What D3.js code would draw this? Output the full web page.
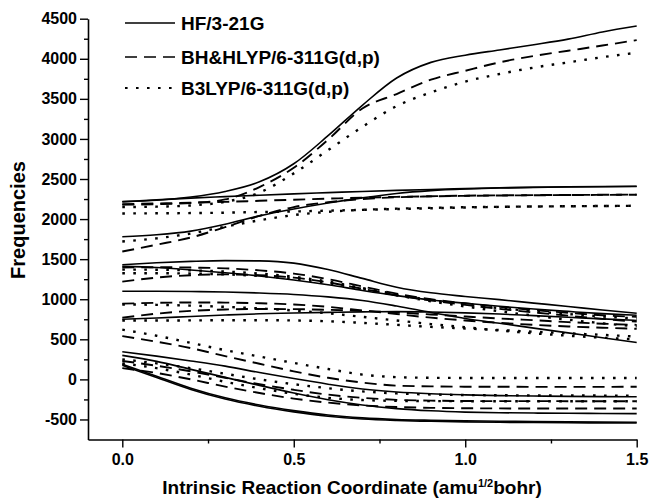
<!DOCTYPE html>
<html>
<head>
<meta charset="utf-8">
<script src="https://cdn.jsdelivr.net/npm/d3@7"></script>
<style>
  body { margin: 0; background: #fff; }
  text { font-family: "Liberation Sans", Arial, sans-serif; font-weight: bold; fill: #000; }
</style>
</head>
<body>
<div id="plot"></div>
<script>
// reaction coordinate grid (amu^1/2 bohr)
const irc = [0, 0.1, 0.2, 0.3, 0.4, 0.5, 0.6, 0.7, 0.8, 0.9, 1.0, 1.1, 1.2, 1.3, 1.4, 1.5];

// HF/3-21G (solid)
const hfTop  = [2220, 2235, 2275, 2345, 2465, 2690, 3040, 3420, 3760, 3955, 4045, 4110, 4175, 4245, 4335, 4408];
const hfFlat = [2215, 2240, 2262, 2280, 2298, 2315, 2330, 2345, 2358, 2370, 2380, 2390, 2398, 2403, 2407, 2410];
const hfRise = [1780, 1805, 1850, 1935, 2040, 2125, 2200, 2265, 2320, 2355, 2375, 2387, 2395, 2400, 2404, 2407];
const hfM1   = [1430, 1455, 1472, 1482, 1478, 1450, 1370, 1260, 1150, 1080, 1035, 995, 952, 910, 865, 825];
const hfM2   = [1410, 1395, 1365, 1330, 1290, 1240, 1180, 1110, 1045, 990, 950, 912, 878, 848, 820, 800];
const hfM3   = [1100, 1100, 1097, 1090, 1078, 1060, 1030, 985, 915, 835, 760, 700, 640, 580, 520, 460];
const hfM4   = [750, 765, 785, 803, 818, 828, 836, 842, 845, 840, 830, 815, 795, 775, 755, 735];
const hfL1   = [345, 290, 230, 165, 85, 10, -60, -120, -158, -180, -193, -202, -208, -212, -215, -217];
const hfL2   = [300, 225, 125, 25, -75, -170, -255, -320, -365, -392, -408, -416, -420, -423, -425, -427];
const hfL3   = [190, 40, -110, -230, -320, -390, -445, -480, -500, -510, -517, -522, -526, -530, -533, -535];
const hfL4   = [175, 25, -125, -245, -335, -405, -460, -495, -513, -523, -530, -535, -538, -541, -543, -545];

// BH&HLYP/6-311G(d,p) (dashed)
const bhTop  = [2180, 2185, 2200, 2245, 2400, 2640, 2990, 3380, 3560, 3740, 3850, 3955, 4035, 4100, 4165, 4233];
const bhFlat = [2185, 2195, 2205, 2215, 2228, 2242, 2255, 2267, 2277, 2285, 2292, 2296, 2299, 2301, 2303, 2305];
const bhRise = [1595, 1680, 1770, 1900, 2040, 2150, 2210, 2250, 2272, 2283, 2290, 2294, 2297, 2300, 2302, 2304];
const bhM1   = [1395, 1400, 1395, 1385, 1360, 1320, 1250, 1160, 1070, 1000, 950, 905, 865, 830, 800, 780];
const bhM2   = [1220, 1270, 1300, 1310, 1300, 1270, 1210, 1130, 1050, 985, 930, 880, 835, 795, 755, 720];
const bhM3   = [945, 955, 960, 958, 950, 935, 905, 860, 815, 770, 735, 705, 680, 660, 645, 630];
const bhM4   = [770, 820, 855, 872, 878, 876, 868, 855, 835, 810, 785, 760, 738, 715, 695, 680];
const bhL1   = [540, 470, 390, 290, 195, 100, 20, -40, -78, -87, -91, -92, -93, -93, -93, -92];
const bhL2   = [230, 170, 100, 20, -60, -130, -190, -230, -255, -265, -270, -271, -271, -272, -272, -272];
const bhL3   = [140, 80, 0, -90, -170, -240, -290, -325, -345, -355, -360, -362, -363, -363, -363, -363];

// B3LYP/6-311G(d,p) (dotted)
const b3Top  = [2150, 2155, 2170, 2215, 2330, 2570, 2860, 3150, 3410, 3580, 3715, 3810, 3890, 3955, 4020, 4075];
const b3Flat = [2070, 2072, 2075, 2080, 2088, 2095, 2105, 2115, 2125, 2135, 2145, 2152, 2157, 2160, 2163, 2166];
const b3Rise = [1720, 1760, 1820, 1905, 1985, 2050, 2090, 2115, 2130, 2140, 2148, 2153, 2157, 2160, 2163, 2166];
const b3M1   = [1370, 1368, 1360, 1345, 1320, 1280, 1220, 1140, 1060, 990, 935, 890, 850, 815, 785, 760];
const b3M2   = [1325, 1325, 1320, 1310, 1290, 1255, 1200, 1130, 1050, 975, 910, 850, 795, 745, 700, 660];
const b3M3   = [935, 930, 920, 905, 885, 860, 825, 780, 735, 690, 650, 610, 575, 545, 520, 500];
const b3M4   = [735, 735, 736, 738, 738, 735, 725, 705, 680, 655, 635, 615, 595, 575, 555, 535];
const b3L1   = [620, 545, 455, 365, 285, 205, 130, 60, 28, 20, 18, 18, 18, 18, 18, 18];
const b3L2   = [250, 200, 140, 70, 0, -60, -110, -150, -175, -188, -195, -198, -200, -201, -202, -202];
const b3L3   = [200, 140, 60, -30, -110, -180, -230, -258, -268, -271, -272, -272, -272, -272, -272, -272];

const methods = ["HF/3-21G", "BH&HLYP/6-311G(d,p)", "B3LYP/6-311G(d,p)"];
const modes = [
  [hfTop, hfFlat, hfRise, hfM1, hfM2, hfM3, hfM4, hfL1, hfL2, hfL3, hfL4],
  [bhTop, bhFlat, bhRise, bhM1, bhM2, bhM3, bhM4, bhL1, bhL2, bhL3],
  [b3Top, b3Flat, b3Rise, b3M1, b3M2, b3M3, b3M4, b3L1, b3L2, b3L3]
];

const xTicks = [0, 0.5, 1.0, 1.5];
const yTicks = [-500, 0, 500, 1000, 1500, 2000, 2500, 3000, 3500, 4000, 4500];

const width = 651, height = 499;
const dashes = ["none", "12,7", "2.6,8.4"];
const widths = [1.6, 1.9, 2.4];

const svg = d3.select("#plot").append("svg")
  .attr("width", width)
  .attr("height", height);

const x = d3.scaleLinear().domain([-0.1, 1.5]).range([88, 636.7]);
const y = d3.scaleLinear().domain([-750, 4500]).range([439.5, 18.7]);

// curves
const line = d3.line()
  .x((d, i) => x(irc[i]))
  .y(d => y(d))
  .curve(d3.curveMonotoneX);

methods.forEach((m, k) => {
  svg.append("g").selectAll("path")
    .data(modes[k])
    .enter()
    .append("path")
      .attr("d", line)
      .attr("fill", "none")
      .attr("stroke", "#000")
      .attr("stroke-width", widths[k])
      .attr("stroke-dasharray", dashes[k]);
});

// y axis (plain hyphen for negatives, like the original)
svg.append("g")
  .attr("transform", "translate(88,0)")
  .call(d3.axisLeft(y).tickValues(yTicks).tickSize(8).tickSizeOuter(0).tickPadding(3)
    .tickFormat(d => String(d)));
svg.append("g")
  .attr("transform", "translate(88,0)")
  .call(d3.axisLeft(y).tickValues(d3.range(-250, 4500, 500)).tickSize(4).tickFormat(""))
  .select(".domain").remove();

// x axis
svg.append("g")
  .attr("transform", "translate(0,439.5)")
  .call(d3.axisBottom(x).tickValues(xTicks).tickSize(8).tickSizeOuter(0).tickPadding(6)
    .tickFormat(d3.format(".1f")));
svg.append("g")
  .attr("transform", "translate(0,439.5)")
  .call(d3.axisBottom(x).tickValues([0.25, 0.75, 1.25]).tickSize(4).tickFormat(""))
  .select(".domain").remove();

svg.selectAll(".domain").attr("stroke-width", 1.6);
svg.selectAll(".tick line").attr("stroke-width", 1.4);
svg.selectAll(".tick text")
  .style("font-family", "'Liberation Sans', Arial, sans-serif")
  .style("font-weight", "bold")
  .style("font-size", "16px");

// axis titles
const xt = svg.append("text")
  .attr("x", 352)
  .attr("y", 494)
  .attr("text-anchor", "middle")
  .style("font-size", "19px");
xt.append("tspan").text("Intrinsic Reaction Coordinate (amu");
xt.append("tspan").attr("dy", -7).style("font-size", "11px").text("1/2");
xt.append("tspan").attr("dy", 7).text("bohr)");

svg.append("text")
  .attr("transform", "translate(25,220) rotate(-90)")
  .attr("text-anchor", "middle")
  .style("font-size", "20px")
  .text("Frequencies");

// legend
const legY = [23, 57, 88];
const leg = svg.append("g");
methods.forEach((m, k) => {
  leg.append("line")
    .attr("x1", 125).attr("x2", 175)
    .attr("y1", legY[k]).attr("y2", legY[k])
    .attr("stroke", "#000")
    .attr("stroke-width", widths[k] - 0.2)
    .attr("stroke-dasharray", dashes[k]);
  leg.append("text")
    .attr("x", 181)
    .attr("y", legY[k] + 6.5)
    .style("font-size", "19px")
    .text(m);
});
</script>
</body>
</html>
